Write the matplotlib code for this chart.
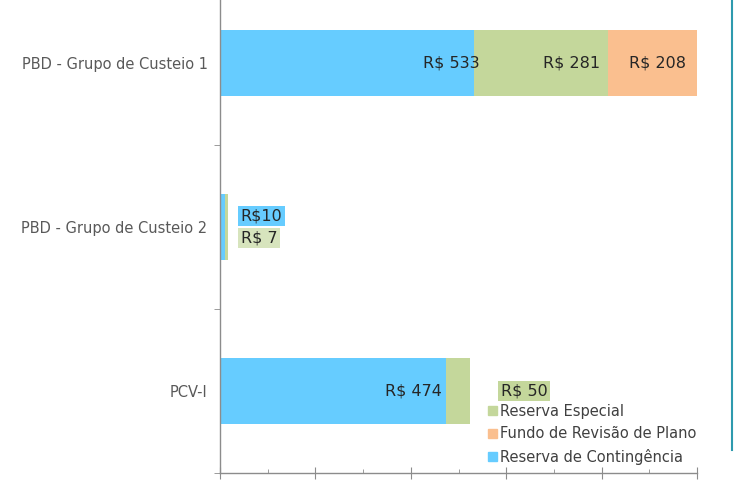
import matplotlib.pyplot as plt
from matplotlib.patches import Patch
from matplotlib.lines import Line2D

# Data
categories = ['PBD - Grupo de Custeio 1', 'PBD - Grupo de Custeio 2', 'PCV-I']
contingencia = [533, 10, 474]
especial = [281, 7, 50]
revisao = [208, 0, 0]
label_contingencia = ['R$ 533', 'R$10', 'R$ 474']
label_especial = ['R$ 281', 'R$ 7', 'R$ 50']
label_revisao = ['R$ 208', '', '']

c_blue = '#66CCFF'
c_green = '#C4D79B'
c_orange = '#FABF8F'
c_green_light = '#D7E4BD'

fig = plt.figure(figsize=(7.35, 4.84), dpi=100)
ax = fig.add_axes([220 / 735, 1 - 473 / 484, 477 / 735, 492 / 484])

y = list(range(len(categories)))
h = 0.4
ax.barh(y, contingencia, height=h, color=c_blue, label='Reserva de Contingência')
ax.barh(y, especial, height=h, left=contingencia, color=c_green, label='Reserva Especial')
left2 = [a + b for a, b in zip(contingencia, especial)]
ax.barh(y, revisao, height=h, left=left2, color=c_orange, label='Fundo de Revisão de Plano')

xmax = 1000
ax.set_xlim(0, xmax)
ax.set_ylim(2.5, -0.5)

txt = dict(fontsize=11.5, color='#262626', va='center')

# group 1: inside-end labels
ax.annotate(label_contingencia[0], (contingencia[0], 0), xytext=(4, 0),
            textcoords='offset points', ha='right', **txt)
ax.annotate(label_especial[0], (left2[0], 0), xytext=(-6, 0),
            textcoords='offset points', ha='right', **txt)
vis_end = min(left2[0] + revisao[0], xmax)
ax.annotate(label_revisao[0], (vis_end, 0), xytext=(-8, 0),
            textcoords='offset points', ha='right', **txt)

# group 2: small bars, labels outside with background boxes
ax.annotate(label_contingencia[1], (0, 1), xytext=(15, 8),
            textcoords='offset points', ha='left',
            bbox=dict(boxstyle='square,pad=0.15', fc=c_blue, ec='none'), **txt)
ax.annotate(label_especial[1], (0, 1), xytext=(15, -8),
            textcoords='offset points', ha='left',
            bbox=dict(boxstyle='square,pad=0.15', fc=c_green_light, ec='none'), **txt)

# group 3
ax.annotate(label_contingencia[2], (contingencia[2], 2), xytext=(-3, 0),
            textcoords='offset points', ha='right', **txt)
ax.annotate(label_especial[2], (left2[2], 2), xytext=(22, 0),
            textcoords='offset points', ha='left',
            bbox=dict(boxstyle='square,pad=0.15', fc=c_green, ec='none'), **txt)

# axes styling
for s in ['top', 'right']:
    ax.spines[s].set_visible(False)
for s in ['left', 'bottom']:
    ax.spines[s].set_color('#8C8C8C')
    ax.spines[s].set_linewidth(1.0)

ax.set_yticks([-0.5, 0.5, 1.5, 2.5], minor=True)
ax.set_yticks(y)
ax.set_yticklabels(categories, fontsize=10.5, color='#595959')
ax.tick_params(axis='y', which='major', length=0, pad=9)
ax.tick_params(axis='y', which='minor', length=4, color='#8C8C8C', direction='out')

ax.xaxis.set_major_locator(plt.MultipleLocator(200))
ax.xaxis.set_minor_locator(plt.MultipleLocator(100))
ax.set_xticklabels([])
ax.tick_params(axis='x', which='major', length=8, color='#8C8C8C', direction='inout')
ax.tick_params(axis='x', which='minor', length=3, color='#8C8C8C', direction='in')

handles = [Patch(color=c_green), Patch(color=c_orange), Patch(color=c_blue)]
labels = ['Reserva Especial', 'Fundo de Revisão de Plano', 'Reserva de Contingência']
leg = fig.legend(handles, labels, loc='upper left',
                 bbox_to_anchor=(488 / 735, 1 - 404 / 484),
                 frameon=False, fontsize=10.5, handlelength=0.6, handleheight=0.6,
                 handletextpad=0.25, labelspacing=0.5, borderpad=0, borderaxespad=0)
for t in leg.get_texts():
    t.set_color('#404040')

# slide frame line on the right
fig.add_artist(Line2D([0.996, 0.996], [0.07, 1.0], transform=fig.transFigure,
                      color='#2E9AAE', linewidth=1.5))

fig.savefig('out.png', dpi=100)
